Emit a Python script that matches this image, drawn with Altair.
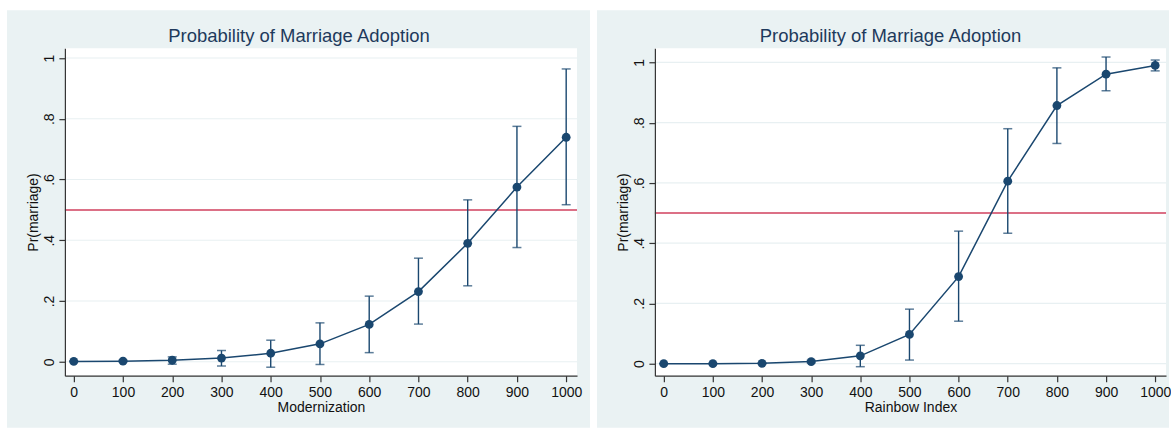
import altair as alt
import pandas as pd

# ---- data ----
x_levels = [0, 100, 200, 300, 400, 500, 600, 700, 800, 900, 1000]

mod_pr = [0.001, 0.002, 0.005, 0.012, 0.028, 0.059, 0.123, 0.231, 0.390, 0.575, 0.739]
mod_lo = [0.000, 0.000, -0.008, -0.014, -0.018, -0.009, 0.030, 0.124, 0.250, 0.376, 0.517]
mod_hi = [0.003, 0.005, 0.016, 0.037, 0.071, 0.128, 0.216, 0.341, 0.533, 0.775, 0.964]

rb_pr = [0.000, 0.000, 0.001, 0.007, 0.026, 0.097, 0.289, 0.606, 0.857, 0.961, 0.990]
rb_lo = [0.000, 0.000, 0.000, 0.003, -0.010, 0.012, 0.141, 0.433, 0.731, 0.906, 0.972]
rb_hi = [0.000, 0.001, 0.002, 0.011, 0.061, 0.181, 0.440, 0.780, 0.982, 1.018, 1.008]

y_ticks = [0, 0.2, 0.4, 0.6, 0.8, 1.0]
x_ticks = x_levels
threshold = [0.5]

chart_title = "Probability of Marriage Adoption"
y_title = "Pr(marriage)"

# ---- styles ----
BG = "#eaf2f3"
NAVY = "#1a476f"
RED = "#d0405e"
GRID = "#e8f0f2"
FONT = "Liberation Sans"


def panel(pr, lo, hi, xtitle, ydom, W, H, rect_right, title_dx):
    df = pd.DataFrame({"x": x_levels, "pr": pr, "lo": lo, "hi": hi})
    xs = alt.Scale(domain=[-18, 1022], nice=False, zero=False)
    ys = alt.Scale(domain=ydom, nice=False, zero=False)
    xaxis = alt.Axis(values=x_ticks, title=xtitle, grid=False, zindex=1,
                     tickSize=6, labelPadding=4, titlePadding=1,
                     labelFlush=False, format="d")
    yaxis = alt.Axis(values=y_ticks, title=y_title, grid=False, zindex=1,
                     tickSize=6, labelAngle=270, labelAlign="center",
                     labelBaseline="bottom", labelPadding=2, titlePadding=2,
                     labelExpr="datum.value == 0 ? '0' : datum.value == 1 ? '1' : replace(format(datum.value, '.1f'), '0.', '.')")

    one = pd.DataFrame({"k": [0]})
    bg = alt.Chart(one).mark_rect(color=BG).encode(
        x=alt.value(-58), x2=alt.value(W + rect_right),
        y=alt.value(-38), y2=alt.value(H + 52))
    plotbg = alt.Chart(one).mark_rect(color="white").encode(
        x=alt.value(0), x2=alt.value(W), y=alt.value(0), y2=alt.value(H))

    grid = alt.Chart(pd.DataFrame({"g": y_ticks})).mark_rule(
        color=GRID, strokeWidth=1.2).encode(
        y=alt.Y("g:Q", scale=ys, axis=yaxis))
    red = alt.Chart(pd.DataFrame({"t": threshold})).mark_rule(
        color=RED, strokeWidth=1.5).encode(
        y=alt.Y("t:Q", scale=ys, axis=yaxis))

    base = alt.Chart(df)
    X = alt.X("x:Q", scale=xs, axis=xaxis)
    bars = base.mark_rule(color=NAVY, strokeWidth=1.4).encode(
        x=X, y=alt.Y("lo:Q", scale=ys, axis=yaxis), y2="hi:Q")
    cap_lo = base.mark_tick(color=NAVY, orient="horizontal", size=9, thickness=1.5).encode(
        x=X, y=alt.Y("lo:Q", scale=ys, axis=yaxis))
    cap_hi = base.mark_tick(color=NAVY, orient="horizontal", size=9, thickness=1.5).encode(
        x=X, y=alt.Y("hi:Q", scale=ys, axis=yaxis))
    line = base.mark_line(color=NAVY, strokeWidth=1.5).encode(
        x=X, y=alt.Y("pr:Q", scale=ys, axis=yaxis))
    pts = base.mark_circle(color=NAVY, size=78, opacity=1).encode(
        x=X, y=alt.Y("pr:Q", scale=ys, axis=yaxis))

    return alt.layer(bg, plotbg, grid, red, bars, cap_lo, cap_hi, line, pts).properties(
        width=W, height=H,
        title=alt.TitleParams(chart_title, fontSize=18.5, font=FONT,
                              fontWeight="normal", color="#1e3a5c",
                              anchor="middle", offset=-35, dx=title_dx))


left = panel(mod_pr, mod_lo, mod_hi, "Modernization", [-0.046, 1.032], 513, 328, 13, -22)
right = panel(rb_pr, rb_lo, rb_hi, "Rainbow Index", [-0.04, 1.047], 512, 328, 3, -20)

chart = alt.hconcat(left, right, spacing=7).configure(
    background="white",
    padding={"left": 7, "top": 10, "right": 0, "bottom": 0},
).configure_view(strokeWidth=0).configure_axis(
    domainColor="#333333", tickColor="#333333", labelColor="#111111",
    titleColor="#111111", labelFont=FONT, titleFont=FONT,
    labelFontSize=14, titleFontSize=14, titleFontWeight="normal",
    domainWidth=1.2, tickWidth=1.2)

chart.save("out.html", embed_options={"renderer": "svg", "actions": False})
